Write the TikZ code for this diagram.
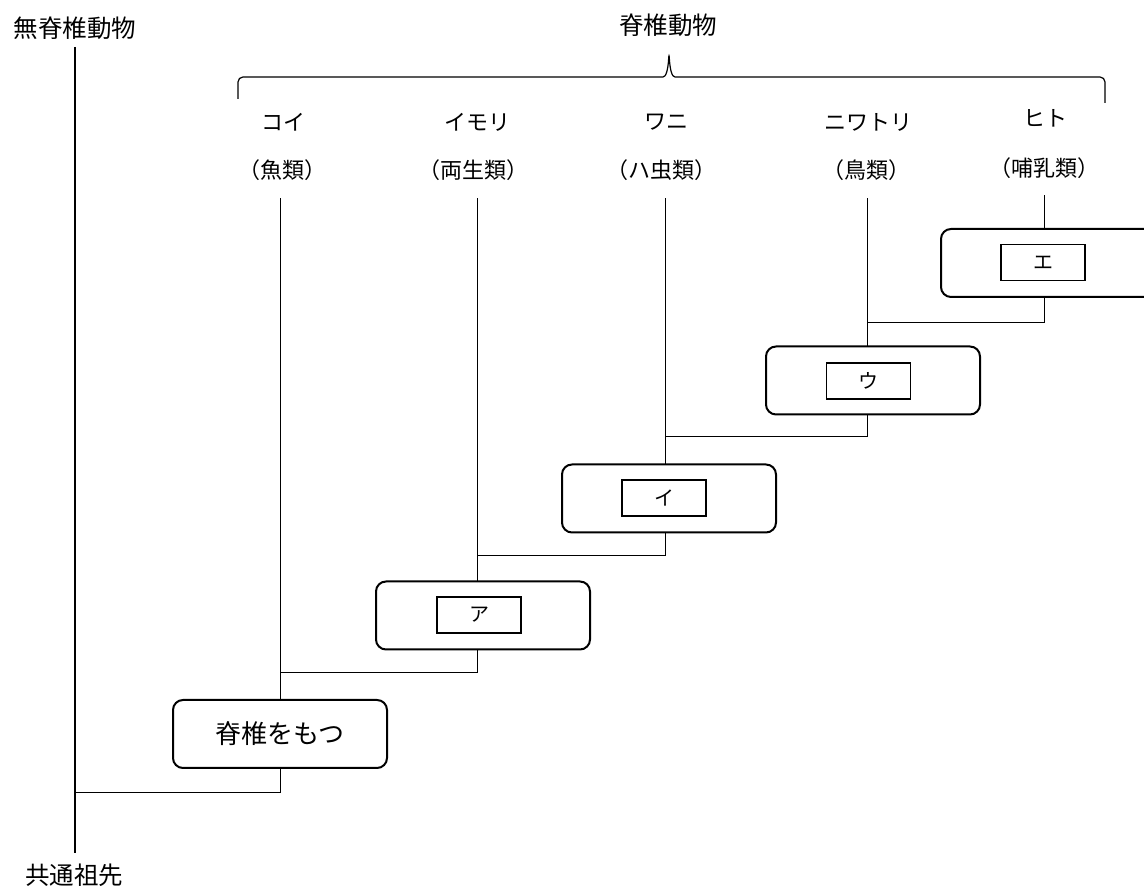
\documentclass[tikz,border=0pt]{standalone}
\usepackage{fontspec}
\newfontfamily\jp{Noto Sans CJK JP}
\usetikzlibrary{positioning,calc}

\begin{document}
\begin{tikzpicture}[x=1pt, y=1pt,
  trait/.style={draw, fill=white, line width=2pt, rounded corners=10pt, minimum width=214pt, minimum height=68pt, inner sep=0pt, font=\jp\fontsize{26}{30}\selectfont},
  blank/.style={draw, fill=white, line width=1.4pt, minimum width=84pt, minimum height=36pt, inner sep=0pt, font=\jp\fontsize{20}{24}\selectfont},
  animal/.style={inner sep=0pt, font=\jp\fontsize{22}{26}\selectfont},
  title/.style={inner sep=0pt, font=\jp\fontsize{24.5}{28}\selectfont},
  branch/.style={line width=1pt}]
  % \draw[step=100pt, gray!20!white, very thin] (0,0) grid (1144,890);
  \useasboundingbox (0,0) rectangle (1144,890);

  \node[title] at (75,862) (invert)   {無脊椎動物};
  \node[title] at (74,15)  (ancestor) {共通祖先};
  \node[title] at (668,865) (vert)    {脊椎動物};

  \node[animal] at (283,768)  (koi)      {コイ};
  \node[animal] at (282,720)  (fish)     {（魚類）};
  \node[animal] at (477,768)  (imori)    {イモリ};
  \node[animal] at (473,720)  (amphib)   {（両生類）};
  \node[animal] at (666,768)  (wani)     {ワニ};
  \node[animal] at (661,720)  (reptile)  {（ハ虫類）};
  \node[animal] at (868,768)  (niwatori) {ニワトリ};
  \node[animal] at (866,720)  (bird)     {（鳥類）};
  \node[animal] at (1045,772) (hito)     {ヒト};
  \node[animal] at (1044,722) (mammal)   {（哺乳類）};

  % brace over the vertebrates
  \draw[line width=1.2pt, rounded corners=5pt] (238,791) -- (238,813) -- (658,813)
    .. controls (666,813) and (668,820) .. (669,837)
    .. controls (670,820) and (672,813) .. (680,813) -- (1105,813) -- (1105,787);

  \coordinate (stemtop) at (75,843);
  \coordinate (stembot) at (75,37);
  \coordinate (root) at (75,97);
  \coordinate (top1) at (280,692);
  \coordinate (top2) at (477,692);
  \coordinate (top3) at (665,692);
  \coordinate (top4) at (867,692);
  \coordinate (top5) at (1044,695);
  \coordinate (j2) at (280,217);
  \coordinate (j3) at (477,334);
  \coordinate (j4) at (665,453);
  \coordinate (j5) at (867,567);

  \draw[line width=1.3pt] (stemtop) -- (stembot);
  \draw[branch] (root) -| (top1);
  \draw[branch] (j2) -| (top2);
  \draw[branch] (j3) -| (top3);
  \draw[branch] (j4) -| (top4);
  \draw[branch] (j5) -| (top5);

  \node[trait] at (280,156)    (spine) {脊椎をもつ};
  \node[trait] at (483,274.5)  (stepa) {};
  \node[blank] at (479,275)    (ka)    {ア};
  \node[trait] at (669,391.5)  (stepi) {};
  \node[blank] at (664,392)    (ki)    {イ};
  \node[trait] at (873,509.5)  (stepu) {};
  \node[blank] at (868.5,509)  (ku)    {ウ};
  \node[trait] at (1048,627)   (stepe) {};
  \node[blank] at (1043,627.5) (ke)    {エ};

\end{tikzpicture}
\end{document}
